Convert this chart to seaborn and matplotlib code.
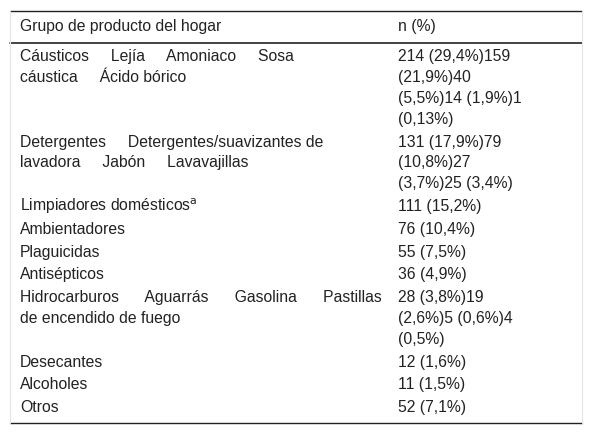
import matplotlib
matplotlib.use("Agg")
import matplotlib.pyplot as plt
import seaborn as sns

# Table contents
header = ["Grupo de producto del hogar", "n (%)"]
left_lines = [
    ["Cáusticos     Lejía     Amoniaco     Sosa", "cáustica     Ácido bórico"],
    ["Detergentes     Detergentes/suavizantes de", "lavadora     Jabón     Lavavajillas"],
    ["Limpiadores domésticos$^{\\mathrm{a}}$"],
    ["Ambientadores"],
    ["Plaguicidas"],
    ["Antisépticos"],
    ["Hidrocarburos      Aguarrás      Gasolina      Pastillas", "de encendido de fuego"],
    ["Desecantes"],
    ["Alcoholes"],
    ["Otros"],
]
right_lines = [
    ["214 (29,4%)159", "(21,9%)40", "(5,5%)14 (1,9%)1", "(0,13%)"],
    ["131 (17,9%)79", "(10,8%)27", "(3,7%)25 (3,4%)"],
    ["111 (15,2%)"],
    ["76 (10,4%)"],
    ["55 (7,5%)"],
    ["36 (4,9%)"],
    ["28 (3,8%)19", "(2,6%)5 (0,6%)4", "(0,5%)"],
    ["12 (1,6%)"],
    ["11 (1,5%)"],
    ["52 (7,1%)"],
]

sns.set_theme(style="white")
plt.rcParams['font.family'] = ['Liberation Sans', 'DejaVu Sans']

W, H = 592, 439
fig = plt.figure(figsize=(W / 100, H / 100), dpi=100)
ax = fig.add_axes([0, 0, 1, 1])
ax.set_xlim(0, W)
ax.set_ylim(H, 0)
ax.axis("off")

fs = 11.3
lx, rx = 20, 398
line_h = 20.8
ax.plot([10, 582], [12, 12], color="#222222", lw=1)
ax.plot([10, 582], [43.5, 43.5], color="#222222", lw=1.2)
ax.plot([10, 582], [424, 424], color="#222222", lw=1)
ax.plot([10, 10], [12, 424], color="#e6e6e6", lw=0.8)
ax.plot([582, 582], [12, 424], color="#e6e6e6", lw=0.8)

ax.text(lx, 27, header[0], fontsize=fs, va="center", color="#222222")
ax.text(rx, 27, header[1], fontsize=fs, va="center", color="#222222")

y = 57
for left, right in zip(left_lines, right_lines):
    for i, s in enumerate(left):
        ax.text(lx, y + i * line_h, s, fontsize=fs, va="center", color="#222222")
    for i, s in enumerate(right):
        ax.text(rx, y + i * line_h, s, fontsize=fs, va="center", color="#222222")
    n = max(len(left), len(right))
    y += n * line_h + 2

fig.savefig("out.png", dpi=100)
